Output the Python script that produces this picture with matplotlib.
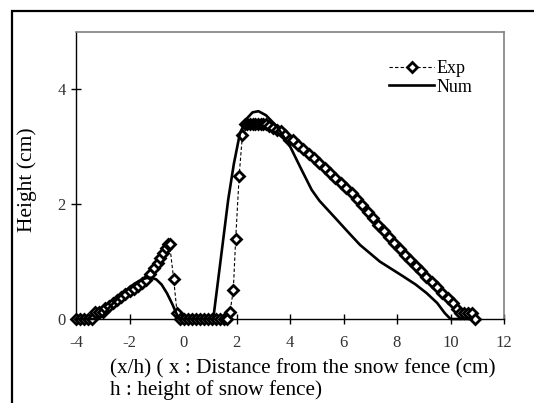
import matplotlib
matplotlib.use('Agg')
import matplotlib.pyplot as plt
from matplotlib.patches import Rectangle

exp_x = [-4.0, -3.85, -3.7, -3.55, -3.4, -3.3, -3.15, -3.0, -2.9, -2.75,
         -2.6, -2.45, -2.3, -2.15, -2.0, -1.85, -1.7, -1.55, -1.4, -1.25,
         -1.1, -0.95, -0.85, -0.75, -0.65, -0.55, -0.5, -0.35, -0.22,
         -0.1, 0.05, 0.2, 0.35, 0.5, 0.65, 0.8, 0.95, 1.1, 1.25, 1.4, 1.55, 1.65,
         1.76, 1.88, 1.97, 2.1, 2.22,
         2.3, 2.4, 2.5, 2.6, 2.7, 2.8, 2.9, 3.0, 3.1,
         3.2, 3.35, 3.5, 3.65, 3.8, 3.95, 4.1,
         4.3, 4.5, 4.7, 4.9, 5.1, 5.3, 5.5, 5.7, 5.9, 6.1, 6.3, 6.5, 6.7, 6.9,
         7.1, 7.3, 7.5, 7.7, 7.9, 8.1, 8.3, 8.5, 8.7, 8.9, 9.1, 9.3, 9.5, 9.7,
         9.9, 10.1, 10.25, 10.35, 10.5, 10.65, 10.8, 10.92]
exp_y = [0, 0, 0, 0, 0, 0.12, 0.13, 0.12, 0.2, 0.22,
         0.28, 0.33, 0.38, 0.43, 0.48, 0.53, 0.58, 0.63, 0.68, 0.78,
         0.88, 0.98, 1.06, 1.15, 1.24, 1.3, 1.3, 0.7, 0.1,
         0, 0, 0, 0, 0, 0, 0, 0, 0, 0, 0, 0, 0,
         0.13, 0.5, 1.4, 2.5, 3.2,
         3.4, 3.4, 3.4, 3.4, 3.4, 3.4, 3.4, 3.4, 3.4,
         3.37, 3.33, 3.3, 3.28, 3.2, 3.12, 3.12,
         3.04, 2.96, 2.88, 2.8, 2.71, 2.63, 2.55, 2.46, 2.37, 2.28, 2.19, 2.09, 1.98, 1.87,
         1.76, 1.64, 1.53, 1.42, 1.32, 1.22, 1.12, 1.02, 0.93, 0.84, 0.74, 0.65, 0.56, 0.46,
         0.37, 0.28, 0.18, 0.11, 0.11, 0.11, 0.11, 0.0]

# Num : computed profile
num_x = [-4.0, -3.2, -3.0, -2.8, -2.6, -2.4, -2.2, -2.0, -1.8, -1.6, -1.4, -1.2,
         -1.0, -0.8, -0.6, -0.4, -0.25, -0.15, 1.13, 1.4, 1.69, 1.9, 2.13, 2.4,
         2.6, 2.82, 3.1, 3.5, 4.0, 4.4, 4.81, 5.1, 5.75, 6.2, 6.62, 7.36, 8.24,
         8.7, 9.11, 9.5, 9.79, 10.0, 10.8]
num_y = [0, 0, 0.05, 0.18, 0.28, 0.38, 0.47, 0.55, 0.62, 0.67, 0.71, 0.72,
         0.69, 0.6, 0.45, 0.26, 0.1, 0, 0, 1.0, 2.08, 2.7, 3.24, 3.5,
         3.6, 3.62, 3.55, 3.36, 3.01, 2.63, 2.25, 2.06, 1.73, 1.5, 1.29, 1.0, 0.74,
         0.6, 0.45, 0.28, 0.1, 0, 0]

x_ticks = [-4, -2, 0, 2, 4, 6, 8, 10, 12]
y_ticks = [0, 2, 4]

serif = 'Liberation Serif'

fig = plt.figure(figsize=(5.34, 4.03), dpi=100)
ax = fig.add_axes([76 / 534, 1 - 319 / 403, 428 / 534, 287 / 403])

ax.plot(exp_x, exp_y, color='black', lw=0.8, ls=(0, (3, 2)), marker='D',
        ms=5, mfc='white', mec='black', mew=2.0, clip_on=False, zorder=3,
        label='Exp')
ax.plot(num_x, num_y, color='black', lw=1.9, clip_on=False, zorder=4,
        label='Num')

ax.set_xlim(-4, 12)
ax.set_ylim(0, 5)
ax.set_xticks(x_ticks)
ax.set_yticks(y_ticks)
ax.set_xticklabels([str(t) for t in x_ticks], fontfamily=serif, fontsize=12,
                   color='#333333')
ax.set_yticklabels([str(t) for t in y_ticks], fontfamily=serif, fontsize=12,
                   color='#333333')
ax.tick_params(axis='x', direction='inout', length=7, width=1, pad=8)
ax.tick_params(axis='y', direction='inout', length=7, width=1, pad=4)

for side in ['top', 'right']:
    ax.spines[side].set_color('#808080')
    ax.spines[side].set_linewidth(1.2)
for side in ['left', 'bottom']:
    ax.spines[side].set_color('black')
    ax.spines[side].set_linewidth(1.0)

leg = ax.legend(loc='upper left', bbox_to_anchor=(389 / 534, 1 - 60 / 403),
                bbox_transform=fig.transFigure, frameon=False,
                prop={'family': serif, 'size': 13}, handlelength=2.5,
                handletextpad=0.15, borderpad=0, borderaxespad=0,
                labelspacing=0.1, numpoints=1)

fig.text(27 / 534, 1 - 180 / 403, 'Height (cm)', rotation=90, ha='center',
         va='center', fontfamily=serif, fontsize=15.5)
fig.text(110 / 534, 1 - 359 / 403,
         '(x/h) ( x : Distance from the snow fence (cm)\nh : height of snow fence)',
         ha='left', va='top', multialignment='left', fontfamily=serif,
         fontsize=15.3, linespacing=1.12)

# outer frame of the chart area, cut by the image edge on the right and bottom
fig.patches.append(Rectangle((12 / 534, -0.2), 1.2, 1.2 - 11 / 403,
                             transform=fig.transFigure, fill=False,
                             edgecolor='black', lw=1.6, clip_on=False))

fig.savefig('out.png', dpi=100)
